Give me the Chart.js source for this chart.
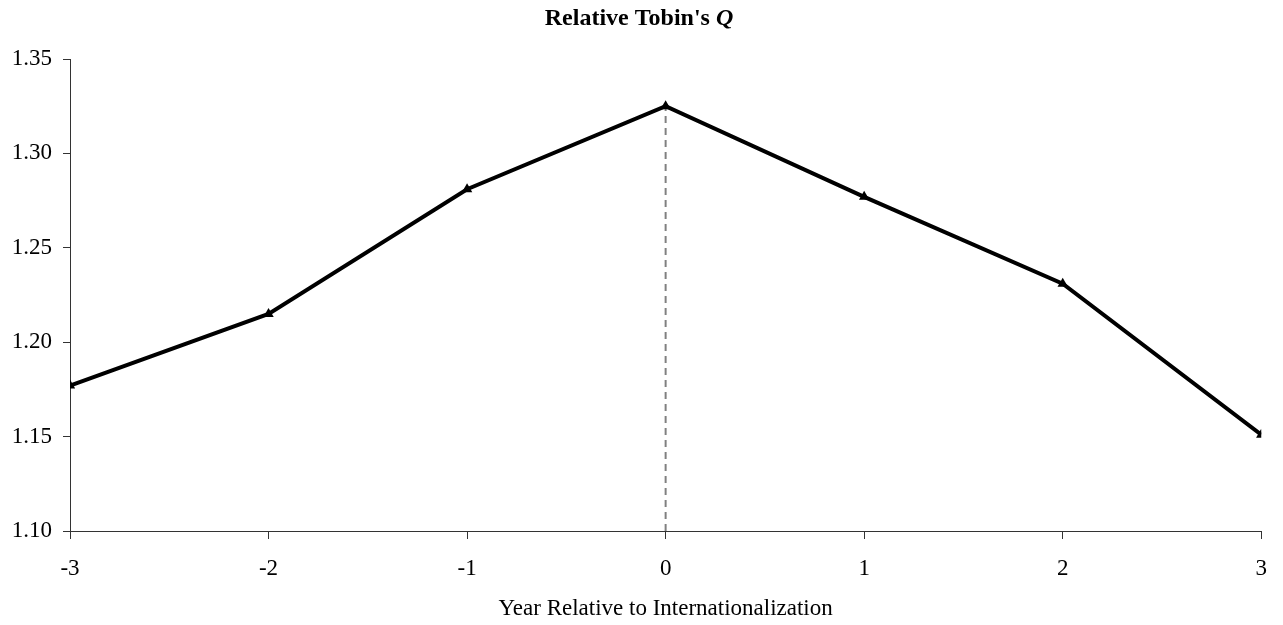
<!DOCTYPE html>
<html>
<head>
<meta charset="utf-8">
<script src="https://cdn.jsdelivr.net/npm/chart.js@4.4.1/dist/chart.umd.min.js"></script>
<style>
    html, body { margin: 0; padding: 0; background: #fff; }
    #wrap { width: 1283px; height: 625px; }
</style>
</head>
<body>
<div id="wrap"><canvas id="qChart"></canvas></div>
<script>
const years = [-3, -2, -1, 0, 1, 2, 3];
const relativeQ = [1.177, 1.215, 1.281, 1.325, 1.277, 1.231, 1.151];
const yTicks = [1.10, 1.15, 1.20, 1.25, 1.30, 1.35];
const eventYear = 0;

const serif = "'Liberation Serif', 'Times New Roman', serif";

// title with italic Q, drawn by hand since Chart.js title is one font only
const titlePlugin = {
    id: 'mixedTitle',
    afterDraw(chart) {
        const ctx = chart.ctx;
        const plain = "Relative Tobin's ";
        const ital = 'Q';
        ctx.save();
        ctx.fillStyle = '#000';
        ctx.textBaseline = 'middle';
        ctx.font = 'bold 24px ' + serif;
        const w1 = ctx.measureText(plain).width;
        ctx.font = 'italic bold 24px ' + serif;
        const w2 = ctx.measureText(ital).width;
        // the original sits a little left of the plot centre
        const x0 = 639 - (w1 + w2) / 2;
        const y = 19;
        ctx.font = 'bold 24px ' + serif;
        ctx.textAlign = 'left';
        ctx.fillText(plain, x0, y);
        ctx.font = 'italic bold 24px ' + serif;
        ctx.fillText(ital, x0 + w1, y);
        ctx.restore();
    }
};

const points = years.map((yr, i) => ({ x: yr, y: relativeQ[i] }));
const peak = relativeQ[years.indexOf(eventYear)];

new Chart(document.getElementById('qChart'), {
    type: 'scatter',
    data: {
        datasets: [
            {
                label: 'Relative Q',
                data: points,
                showLine: true,
                borderColor: '#000',
                backgroundColor: '#000',
                borderWidth: 4,
                pointStyle: 'triangle',
                pointRadius: 6,
                pointBorderWidth: 0,
                order: 1
            },
            {
                label: 'event',
                data: [{ x: eventYear, y: yTicks[0] }, { x: eventYear, y: peak }],
                showLine: true,
                borderColor: '#808080',
                borderWidth: 2,
                borderDash: [7, 5],
                pointRadius: 0,
                order: 2
            }
        ]
    },
    options: {
        responsive: true,
        maintainAspectRatio: false,
        animation: false,
        layout: { padding: { top: 59, left: 0, right: 19, bottom: 0 } },
        plugins: {
            legend: { display: false },
            title: { display: false },
            tooltip: { enabled: false }
        },
        scales: {
            x: {
                type: 'linear',
                min: years[0],
                max: years[years.length - 1],
                afterBuildTicks: scale => { scale.ticks = years.map(v => ({ value: v })); },
                afterFit: scale => { scale.height = 94; },
                grid: { drawOnChartArea: false, drawTicks: true, tickLength: 8, color: '#333' },
                border: { display: true, color: '#333', width: 1 },
                ticks: {
                    color: '#000',
                    padding: 16,
                    font: { family: serif, size: 23 },
                    callback: v => String(v)
                },
                title: {
                    display: true,
                    text: 'Year Relative to Internationalization',
                    color: '#000',
                    font: { family: serif, size: 23 },
                    padding: { top: 0, bottom: 2 }
                }
            },
            y: {
                min: yTicks[0],
                max: yTicks[yTicks.length - 1],
                afterBuildTicks: scale => { scale.ticks = yTicks.map(v => ({ value: v })); },
                afterFit: scale => { scale.width = 70; },
                grid: { drawOnChartArea: false, drawTicks: true, tickLength: 7, color: '#333' },
                border: { display: true, color: '#333', width: 1 },
                ticks: {
                    color: '#000',
                    padding: 11,
                    font: { family: serif, size: 23 },
                    callback: v => Number(v).toFixed(2)
                }
            }
        }
    },
    plugins: [titlePlugin]
});
</script>
</body>
</html>
